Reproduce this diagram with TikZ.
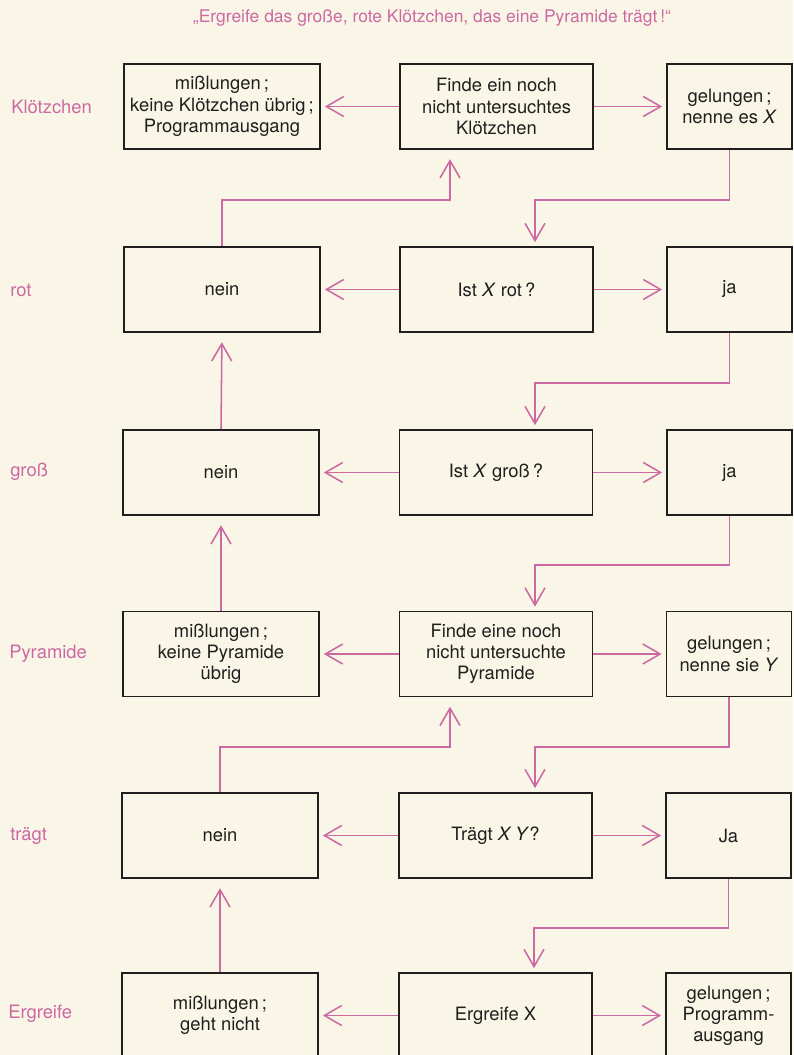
\documentclass[tikz,border=0pt]{standalone}
\usepackage{fontspec}
\setmainfont{TeX Gyre Heros}
\usetikzlibrary{arrows.meta}
\definecolor{paper}{RGB}{250,246,231}
\definecolor{rose}{RGB}{204,104,162}
\definecolor{ink}{RGB}{32,30,30}
\begin{document}
\begin{tikzpicture}[x=0.75pt,y=-0.75pt,
  box/.style={draw=ink,line width=1.3pt,align=center,inner sep=0pt,
    minimum height=63.75pt,text=ink,font=\fontsize{13.8}{15.9}\selectfont},
  lbox/.style={box,minimum width=147pt},
  mbox/.style={box,minimum width=144.75pt},
  rbox/.style={box,minimum width=93.75pt},
  rowlabel/.style={anchor=west,inner sep=0pt,text=rose,font=\fontsize{13.8}{15.9}\selectfont},
  conn/.style={draw=rose,line width=1.15pt,
    -{Straight Barb[length=13pt,width=15pt,line width=1.15pt]},shorten >=3pt},
  connup/.style={conn,shorten >=7pt}]

% page
\fill[paper] (0,0) rectangle (793,1055);
\clip (0,0) rectangle (793,1055);
\useasboundingbox (0,0) rectangle (793,1055);

% heading
\node[text=rose,font=\fontsize{13.1}{15}\selectfont] (title) at (432,18)
  {„Ergreife das große, rote Klötzchen, das eine Pyramide trägt\,!“};

% row labels
\node[rowlabel] (lab1) at (11,107)   {Klötzchen};
\node[rowlabel] (lab2) at (10,290)   {rot};
\node[rowlabel] (lab3) at (10,472)   {groß};
\node[rowlabel] (lab4) at (9,654)    {Pyramide};
\node[rowlabel] (lab5) at (10,836)   {trägt};
\node[rowlabel] (lab6) at (8,1014)   {Ergreife};

% left column: failures
\node[lbox] (l1) at (222,106.5)  {mißlungen\,;\\keine Klötzchen übrig\,;\\Programmausgang};
\node[lbox] (l2) at (222,289.5)  {nein};
\node[lbox] (l3) at (221,472.5)  {nein};
\node[lbox] (l4) at (221,654)    {mißlungen\,;\\keine Pyramide\\übrig};
\node[lbox] (l5) at (220,835.5)  {nein};
\node[lbox] (l6) at (220,1015.5) {mißlungen\,;\\geht nicht};

% middle column: goals
\node[mbox] (m1) at (496.5,106.5) {Finde ein noch\\nicht untersuchtes\\Klötzchen};
\node[mbox] (m2) at (496.5,289.5) {Ist \textit{X} rot\,?};
\node[mbox] (m3) at (496,472.5)   {Ist \textit{X} groß\,?};
\node[mbox] (m4) at (496,654)     {Finde eine noch\\nicht untersuchte\\Pyramide};
\node[mbox] (m5) at (495.5,835.5) {Trägt \textit{X Y}?};
\node[mbox] (m6) at (495.5,1015.5){Ergreife X};

% right column: successes
\node[rbox] (r1) at (729.5,106.5) {gelungen\,;\\nenne es \textit{X}};
\node[rbox] (r2) at (729.5,289.5) {ja};
\node[rbox] (r3) at (729.5,472.5) {ja};
\node[rbox] (r4) at (729,654)     {gelungen\,;\\nenne sie \textit{Y}};
\node[rbox] (r5) at (728.5,835.5) {Ja};
\node[rbox] (r6) at (728.5,1015.5){gelungen\,;\\Programm-\\ausgang};

% bends of the routed connectors
\coordinate (d1) at (535,200);
\coordinate (d2) at (535,383);
\coordinate (d3) at (535,565);
\coordinate (d4) at (535,747);
\coordinate (d5) at (534,928);
\coordinate (u1) at (450,200);
\coordinate (u4) at (450,747);

% goal -> failure / success
\foreach \i in {1,...,6}{
  \draw[conn] (m\i.west) -- (l\i.east);
  \draw[conn] (m\i.east) -- (r\i.west);
}

% success -> next goal
\draw[conn] (r1.south) |- (d1) -- (d1 |- m2.north);
\draw[conn] (r2.south) |- (d2) -- (d2 |- m3.north);
\draw[conn] (r3.south) |- (d3) -- (d3 |- m4.north);
\draw[conn] (r4.south) |- (d4) -- (d4 |- m5.north);
\draw[conn] (r5.south) |- (d5) -- (d5 |- m6.north);

% failure -> back up
\draw[connup] (l2.north) |- (u1) -- (u1 |- m1.south);
\draw[connup] (l3.north) -- (l2.south);
\draw[connup] (l4.north) -- (l3.south);
\draw[connup] (l5.north) |- (u4) -- (u4 |- m4.south);
\draw[connup] (l6.north) -- (l5.south);
\end{tikzpicture}
\end{document}
